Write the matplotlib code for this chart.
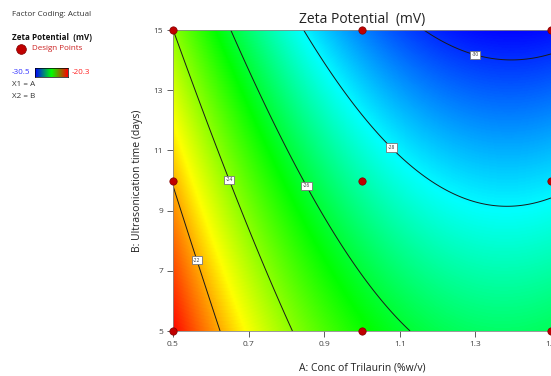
import matplotlib
matplotlib.use('Agg')

import matplotlib.pyplot as plt
import numpy as np
from matplotlib.colors import LinearSegmentedColormap
from matplotlib.lines import Line2D

plt.rcParams['font.family'] = ['Open Sans', 'DejaVu Sans']

# design points (3x3 factorial) and the zeta potential
conc = [0.5, 1.0, 1.5, 0.5, 1.0, 1.5, 0.5, 1.0, 1.5]       # A: % w/v
time_days = [5, 5, 5, 10, 10, 10, 15, 15, 15]                # B: days
zeta = [-20.36, -25.40, -26.35, -22.09, -27.13, -28.22, -23.99, -29.16, -30.37]

contour_levels = [-30, -28, -26, -24, -22]
z_min, z_max = -30.5, -20.3
x_ticks = [0.5, 0.7, 0.9, 1.1, 1.3, 1.5]
y_ticks = [5, 7, 9, 11, 13, 15]

# quadratic response surface fitted to the design points
A = np.array(conc)
B = np.array(time_days)
X = np.column_stack([np.ones_like(A), A, B, A**2, B**2, A * B])
coef, *_ = np.linalg.lstsq(X, np.array(zeta), rcond=None)

def model(a, b):
    return coef[0] + coef[1]*a + coef[2]*b + coef[3]*a**2 + coef[4]*b**2 + coef[5]*a*b

ga, gb = np.meshgrid(np.linspace(0.5, 1.5, 300), np.linspace(5, 15, 300))
gz = model(ga, gb)

# Design-Expert style map: blue -> cyan -> green -> yellow -> red
cmap = LinearSegmentedColormap.from_list(
    'de', [(0.0, '#0000ff'), (0.25, '#00ffff'), (0.49, '#00ff00'),
           (0.76, '#ffff00'), (0.86, '#ff9000'), (1.0, '#ff0000')])

fig = plt.figure(figsize=(5.51, 3.76), dpi=100)
ax = fig.add_axes([173/551, 45/376, 378/551, 301/376])

ax.imshow(gz, extent=[0.5, 1.5, 5, 15], origin='lower', aspect='auto',
          cmap=cmap, vmin=z_min, vmax=z_max, interpolation='bilinear')
cs = ax.contour(ga, gb, gz, levels=contour_levels, colors='#1a1a1a',
                linewidths=0.7, linestyles='solid')
labels = ax.clabel(cs, fmt='%d', fontsize=3.5, inline=False,
                   manual=[(1.3, 14.2), (1.07, 11.0), (0.85, 9.8), (0.645, 10.0), (0.55, 7.3)])
for t in labels:
    t.set_rotation(0)
    t.set_color('#333333')
    t.set_zorder(6)
    t.set_bbox(dict(facecolor='white', edgecolor='#777777', pad=1.2, linewidth=0.6))

ax.scatter(conc, time_days, s=28, color='#c00000', edgecolors='#800000',
           linewidths=0.5, zorder=5, clip_on=False)

ax.set_xlim(0.5, 1.5)
ax.set_ylim(5, 15)
ax.set_xticks(x_ticks)
ax.set_xticklabels([f'{v:.1f}' for v in x_ticks])
ax.set_yticks(y_ticks)
ax.tick_params(direction='out', length=4, width=0.6, labelsize=6, colors='#444444', pad=3)
for s in ax.spines.values():
    s.set_color('#888888')
    s.set_linewidth(0.6)

ax.set_title('Zeta Potential  (mV)', fontsize=10, color='#222222', pad=5)
ax.set_xlabel('A: Conc of Trilaurin (%w/v)', fontsize=7.5, color='#222222', labelpad=11)
ax.set_ylabel('B: Ultrasonication time (days)', fontsize=7.5, color='#222222', labelpad=8)

# left-hand legend block
def fx(px):
    return px / 551

def fy(py):
    return 1 - py / 376

fig.text(fx(12), fy(14), 'Factor Coding: Actual', fontsize=5.8, color='#333333', va='center')
fig.text(fx(12), fy(38), 'Zeta Potential  (mV)', fontsize=5.8, fontweight='bold', color='#111111', va='center')
fig.add_artist(Line2D([fx(21)], [fy(49)], transform=fig.transFigure, marker='o',
                      markersize=7, markerfacecolor='#c00000', markeredgecolor='#800000',
                      markeredgewidth=0.5, linestyle='none'))
fig.text(fx(32), fy(49), 'Design Points', fontsize=5.8, color='#cc2222', va='center')
fig.text(fx(12), fy(72), f'{z_min}', fontsize=5.8, color='#3333ff', va='center')
fig.text(fx(72), fy(72), f'{z_max}', fontsize=5.8, color='#ff2222', va='center')
cax = fig.add_axes([fx(35), fy(77), fx(68) - fx(35), fy(68) - fy(77)])
cax.imshow(np.linspace(0, 1, 100)[None, :], aspect='auto',
           cmap=LinearSegmentedColormap.from_list('bar', ['#0000ff', '#00ff00', '#ff0000']))
cax.set_xticks([])
cax.set_yticks([])
for s in cax.spines.values():
    s.set_linewidth(0.5)
fig.text(fx(12), fy(84), 'X1 = A', fontsize=5.8, color='#333333', va='center')
fig.text(fx(12), fy(97), 'X2 = B', fontsize=5.8, color='#333333', va='center')

fig.savefig('out.png', dpi=100)
